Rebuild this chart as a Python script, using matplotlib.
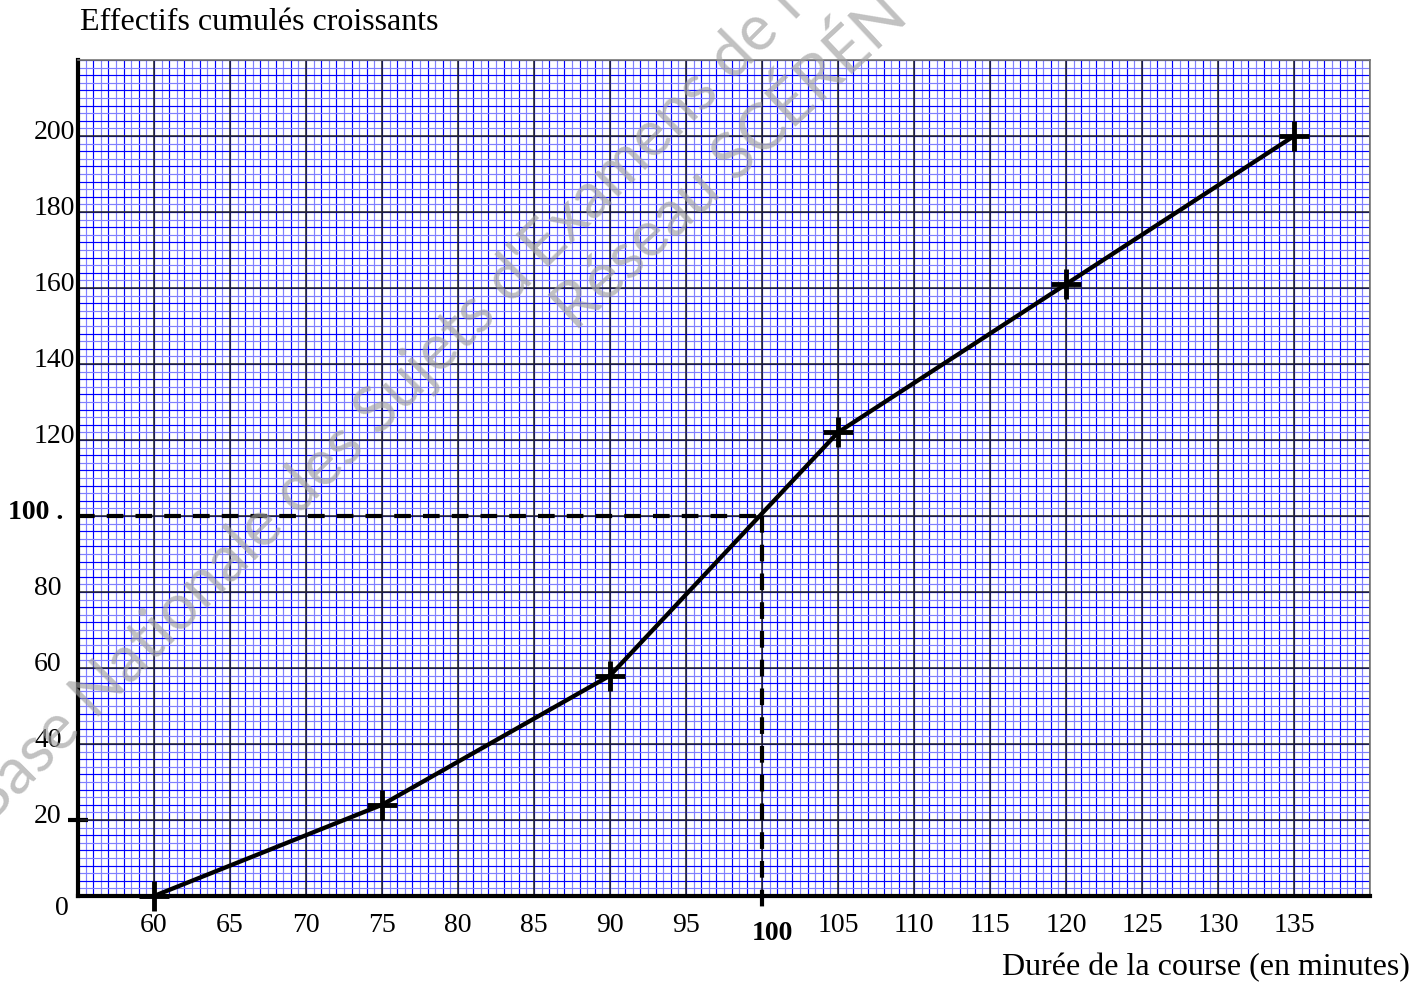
import numpy as np
import matplotlib
matplotlib.use("Agg")
import matplotlib.pyplot as plt
from matplotlib.transforms import offset_copy

# data
durees = [60, 75, 90, 105, 120, 135]
effectifs = [0, 24, 58, 122, 161, 200]
mediane_x = 100
mediane_y = 100
x_labels = [60, 65, 70, 75, 80, 85, 90, 95, 105, 110, 115, 120, 125, 130, 135]
y_labels = [40, 60, 80, 120, 140, 160, 180, 200]

plt.rcParams['font.family'] = ['Liberation Serif', 'DejaVu Serif']
fs = 20

fig = plt.figure(figsize=(14.21, 9.92), dpi=100)
ax = fig.add_axes([78 / 1421, 1 - 896 / 992, 1292 / 1421, 836 / 992])
ax.set_xlim(55, 140)
ax.set_ylim(0, 220)

# millimetre paper grid
xs = np.arange(55, 140.01, 0.5)
ys = np.arange(0, 220.01, 2)
for i, x in enumerate(xs):
    c = '#0000ff' if i % 2 == 0 else '#8080ff'
    ax.axvline(x, color=c, lw=0.85, zorder=1)
for i, y in enumerate(ys):
    c = '#0000ff' if i % 2 == 0 else '#8080ff'
    ax.axhline(y, color=c, lw=0.85, zorder=1)
for x in np.arange(55, 140.01, 5):
    ax.axvline(x, color='#222222', lw=1.1, zorder=2)
for y in np.arange(0, 220.01, 20):
    ax.axhline(y, color='#222222', lw=1.1, zorder=2)

for s in ['top', 'right']:
    ax.spines[s].set_color('#777777')
    ax.spines[s].set_linewidth(1.2)
for s in ['left', 'bottom']:
    ax.spines[s].set_color('black')
    ax.spines[s].set_linewidth(3)
for s in ax.spines.values():
    s.set_zorder(6)

# ticks: only a mark at 20 (y)
ax.set_yticks([20])
ax.set_yticklabels([])
ax.tick_params(axis='y', which='major', direction='inout', length=15, width=3, color='black')
ax.set_xticks([mediane_x])
ax.set_xticklabels([])
ax.tick_params(axis='x', which='major', direction='out', length=0)

# tick labels
ytr = ax.get_yaxis_transform()
xtr = ax.get_xaxis_transform()
for v in y_labels + [20]:
    ax.text(-0.034, v, str(v), transform=offset_copy(ytr, fig=fig, x=0, y=-3, units='dots'),
            ha='left', va='baseline', fontsize=fs, clip_on=False)
ax.text(-0.0175, 0, '0', transform=offset_copy(ytr, fig=fig, x=0, y=-19, units='dots'),
        ha='left', va='baseline', fontsize=fs, clip_on=False)
ax.text(-0.054, mediane_y, '100 .', transform=offset_copy(ytr, fig=fig, x=0, y=-3, units='dots'),
        ha='left', va='baseline', fontsize=fs, fontweight='bold', clip_on=False)
for v in x_labels:
    ax.text(v, 0, str(v), transform=offset_copy(xtr, fig=fig, x=0, y=-29, units='dots'),
            ha='center', va='center', fontsize=fs, clip_on=False)
ax.text(mediane_x + 0.7, 0, str(mediane_x), transform=offset_copy(xtr, fig=fig, x=0, y=-37, units='dots'),
        ha='center', va='center', fontsize=fs, fontweight='bold', clip_on=False)

# median construction
ax.plot([55, mediane_x], [mediane_y, mediane_y], color='black', lw=3, dashes=(4, 2.9), zorder=4)
ax.plot([mediane_x, mediane_x], [mediane_y, -5.5], color='black', lw=3, dashes=(4, 2.9),
        zorder=4, clip_on=False)

# polygon of cumulative frequencies
ax.plot(durees, effectifs, color='black', lw=3.1, zorder=5, clip_on=False)
ax.plot(durees, effectifs, ls='none', marker='+', ms=22, mew=3.5, color='black', zorder=5, clip_on=False)

fig.text(80 / 1421, 1 - 22 / 992, 'Effectifs cumulés croissants', fontsize=23, ha='left', va='center')
fig.text(1410 / 1421, 1 - 968 / 992, 'Durée de la course (en minutes)', fontsize=23, ha='right', va='center')

# watermark
wm = dict(fontsize=46, family=['Lato', 'DejaVu Sans'], fontweight='normal', color='#a0a0a0',
          alpha=0.65, rotation_mode='anchor', ha='left', va='baseline', zorder=10)
fig.text(-12 / 1421, 1 - 827 / 992, "Base Nationale des Sujets d'Examens de l'enseignement professionnel",
         rotation=45, **wm)
fig.text(576 / 1421, 1 - 333 / 992, 'Réseau SCÉRÉN', rotation=43, **wm)

fig.savefig('out.png', dpi=100)
